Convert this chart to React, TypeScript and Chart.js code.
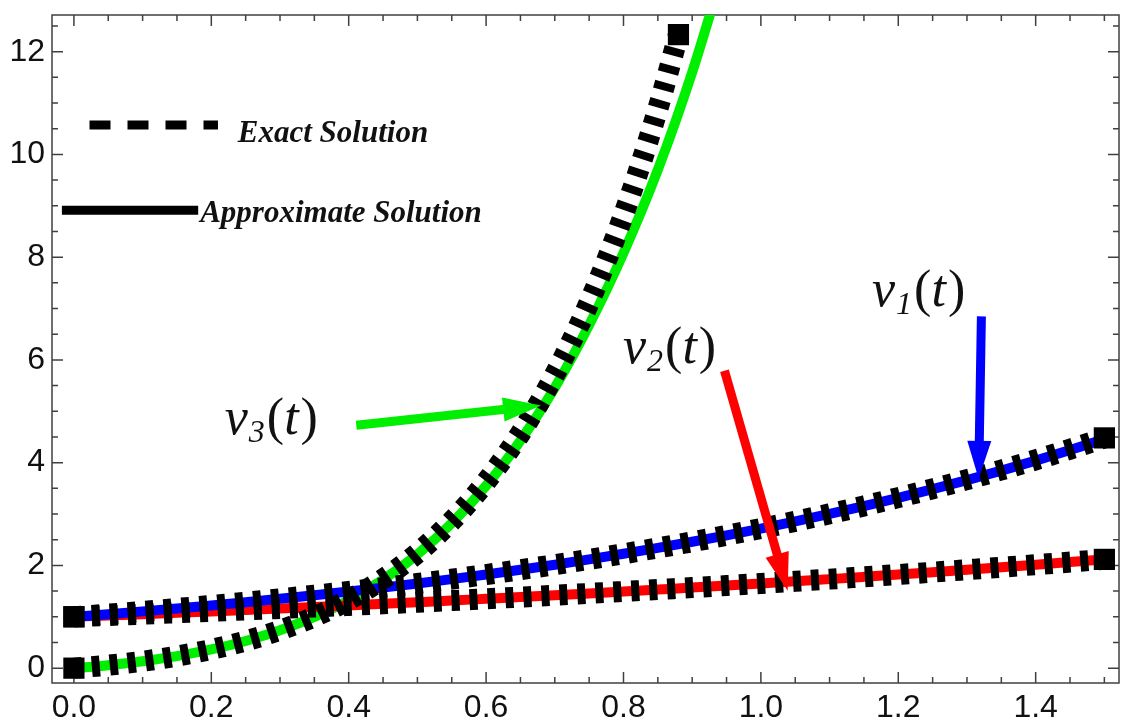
import React, { useEffect, useRef } from 'react';
import { Chart, registerables } from 'chart.js';

Chart.register(...registerables);

// ---------- data ----------
const T_FULL = [0, 0.05, 0.1, 0.15, 0.2, 0.25, 0.3, 0.35, 0.4, 0.45, 0.5, 0.55, 0.6, 0.65, 0.7, 0.75,
  0.8, 0.85, 0.9, 0.95, 1.0, 1.05, 1.1, 1.15, 1.2, 1.25, 1.3, 1.35, 1.4, 1.45, 1.5];

const V1_EXACT = [1.0, 1.051, 1.105, 1.162, 1.221, 1.284, 1.35, 1.419, 1.492, 1.568, 1.649, 1.733,
  1.822, 1.916, 2.014, 2.117, 2.226, 2.34, 2.46, 2.586, 2.718, 2.858, 3.004, 3.158, 3.32, 3.49,
  3.669, 3.857, 4.055, 4.263, 4.482];
const V1_APPROX = [1.0, 1.051, 1.105, 1.162, 1.221, 1.284, 1.35, 1.419, 1.492, 1.568, 1.649, 1.733,
  1.822, 1.916, 2.014, 2.117, 2.226, 2.34, 2.46, 2.585, 2.717, 2.856, 3.002, 3.155, 3.316, 3.484,
  3.661, 3.846, 4.04, 4.245, 4.462];

const V2_EXACT = [1.0, 1.025, 1.051, 1.078, 1.105, 1.133, 1.162, 1.191, 1.221, 1.252, 1.284, 1.316,
  1.35, 1.384, 1.419, 1.455, 1.492, 1.53, 1.568, 1.608, 1.649, 1.691, 1.733, 1.777, 1.822, 1.868,
  1.916, 1.964, 2.014, 2.065, 2.117];
const V2_APPROX = [1.0, 1.025, 1.051, 1.078, 1.105, 1.133, 1.162, 1.191, 1.221, 1.252, 1.284, 1.316,
  1.35, 1.384, 1.419, 1.455, 1.492, 1.53, 1.568, 1.608, 1.649, 1.691, 1.733, 1.777, 1.822, 1.868,
  1.915, 1.964, 2.014, 2.065, 2.117];

const T_V3_EXACT = [0, 0.05, 0.1, 0.15, 0.2, 0.25, 0.3, 0.35, 0.4, 0.45, 0.5, 0.55, 0.6, 0.65, 0.7,
  0.75, 0.8, 0.85, 0.88];
const V3_EXACT = [0, 0.058, 0.135, 0.235, 0.364, 0.529, 0.738, 1.0, 1.328, 1.736, 2.241, 2.864,
  3.63, 4.569, 5.716, 7.116, 8.819, 10.886, 12.332];

const T_V3_APPROX = [0, 0.05, 0.1, 0.15, 0.2, 0.25, 0.3, 0.35, 0.4, 0.45, 0.5, 0.55, 0.6, 0.65, 0.7,
  0.75, 0.8, 0.85, 0.9, 0.95];
const V3_APPROX = [0, 0.058, 0.135, 0.235, 0.364, 0.529, 0.737, 0.998, 1.322, 1.722, 2.215, 2.82,
  3.55, 4.43, 5.46, 6.68, 8.08, 9.7, 11.6, 13.8];

const X_TICKS = [0, 0.2, 0.4, 0.6, 0.8, 1.0, 1.2, 1.4];
const Y_TICKS = [0, 2, 4, 6, 8, 10, 12];
const X_RANGE = [-0.0319, 1.5213];
const Y_RANGE = [-0.289, 12.714];

// annotation anchors, in data units
const LEGEND_ITEMS = [
  { text: 'Exact Solution', dashed: true, x1: 0.0227, x2: 0.2097, yLine: 10.573, xText: 0.2385, yText: 10.245 },
  { text: 'Approximate Solution', dashed: false, x1: -0.0175, x2: 0.1809, yLine: 8.914, xText: 0.1838, yText: 8.682 },
];
const CURVE_LABELS = [
  { sub: '1', x: 1.1618, y: 7.042 },
  { sub: '2', x: 0.7993, y: 5.942 },
  { sub: '3', x: 0.2196, y: 4.553 },
];
const ARROWS = [
  { color: '#0000ff', from: [1.321, 6.849], to: [1.317, 3.685] },
  { color: '#ff0000', from: [0.947, 5.788], to: [1.039, 1.505] },
  { color: '#00ee00', from: [0.411, 4.727], to: [0.680, 5.113] },
];

const BLUE = '#0000ff';
const RED = '#ff0000';
const GREEN = '#00ee00';
const INK = '#111111';
const FRAME = '#404040';
const SERIF = '"Liberation Serif", "Times New Roman", serif';
const SANS = '"Liberation Sans", Arial, sans-serif';

const pts = (xs: number[], ys: number[]) => xs.map((x, i) => ({ x, y: ys[i] }));

const framePlugin = {
  id: 'frameTicks',
  beforeDatasetsDraw(chart: any) {
    const { ctx, chartArea: a, scales } = chart;
    const xs = scales.x;
    const ys = scales.y;
    ctx.save();
    ctx.strokeStyle = FRAME;
    ctx.lineWidth = 1.5;
    ctx.strokeRect(a.left, a.top, a.right - a.left, a.bottom - a.top);
    ctx.beginPath();
    for (let k = Math.ceil(xs.min / 0.05); k * 0.05 <= xs.max + 1e-9; k++) {
      const px = xs.getPixelForValue(k * 0.05);
      const len = k % 4 === 0 ? 11 : 6;
      ctx.moveTo(px, a.bottom); ctx.lineTo(px, a.bottom - len);
      ctx.moveTo(px, a.top); ctx.lineTo(px, a.top + len);
    }
    for (let k = Math.ceil(ys.min / 0.5); k * 0.5 <= ys.max + 1e-9; k++) {
      const py = ys.getPixelForValue(k * 0.5);
      const len = k % 4 === 0 ? 11 : 6;
      ctx.moveTo(a.left, py); ctx.lineTo(a.left + len, py);
      ctx.moveTo(a.right, py); ctx.lineTo(a.right - len, py);
    }
    ctx.stroke();
    ctx.restore();
  },
};

function drawArrow(ctx: CanvasRenderingContext2D, x1: number, y1: number, x2: number, y2: number, color: string) {
  const dx = x2 - x1, dy = y2 - y1;
  const L = Math.hypot(dx, dy);
  const ux = dx / L, uy = dy / L;
  const px = -uy, py = ux;
  const head = 38, half = 12;
  const bx = x2 - ux * head, by = y2 - uy * head;
  ctx.strokeStyle = color;
  ctx.fillStyle = color;
  ctx.lineWidth = 9;
  ctx.lineCap = 'butt';
  ctx.beginPath();
  ctx.moveTo(x1, y1);
  ctx.lineTo(bx + ux * 2, by + uy * 2);
  ctx.stroke();
  ctx.beginPath();
  ctx.moveTo(x2, y2);
  ctx.lineTo(bx + px * half, by + py * half);
  ctx.lineTo(bx - px * half, by - py * half);
  ctx.closePath();
  ctx.fill();
}

const annotationPlugin = {
  id: 'annotations',
  afterDatasetsDraw(chart: any) {
    const { ctx, scales } = chart;
    const X = (v: number) => scales.x.getPixelForValue(v);
    const Y = (v: number) => scales.y.getPixelForValue(v);
    ctx.save();
    // legend
    for (const it of LEGEND_ITEMS) {
      ctx.strokeStyle = '#000';
      ctx.lineWidth = 9;
      ctx.lineCap = 'butt';
      ctx.setLineDash(it.dashed ? [21, 17] : []);
      ctx.beginPath();
      ctx.moveTo(X(it.x1), Y(it.yLine));
      ctx.lineTo(X(it.x2), Y(it.yLine));
      ctx.stroke();
      ctx.setLineDash([]);
      ctx.fillStyle = INK;
      ctx.font = `italic bold 31px ${SERIF}`;
      ctx.textAlign = 'left';
      ctx.textBaseline = 'alphabetic';
      ctx.fillText(it.text, X(it.xText), Y(it.yText));
    }
    // arrows
    for (const ar of ARROWS) {
      drawArrow(ctx, X(ar.from[0]), Y(ar.from[1]), X(ar.to[0]), Y(ar.to[1]), ar.color);
    }
    // curve labels
    ctx.fillStyle = INK;
    ctx.textAlign = 'left';
    ctx.textBaseline = 'alphabetic';
    for (const lb of CURVE_LABELS) {
      let x = X(lb.x);
      const y = Y(lb.y);
      ctx.font = `italic 52px ${SERIF}`;
      ctx.fillText('v', x, y);
      x += ctx.measureText('v').width + 1;
      ctx.font = `italic 32px ${SERIF}`;
      ctx.fillText(lb.sub, x, y + 8);
      x += ctx.measureText(lb.sub).width + 2;
      ctx.font = `52px ${SERIF}`;
      ctx.fillText('(', x, y);
      x += ctx.measureText('(').width;
      ctx.font = `italic 52px ${SERIF}`;
      ctx.fillText('t', x, y);
      x += ctx.measureText('t').width + 2;
      ctx.font = `52px ${SERIF}`;
      ctx.fillText(')', x, y);
    }
    ctx.restore();
  },
};

function colored(data: { x: number; y: number }[], color: string) {
  return {
    data,
    borderColor: color,
    borderWidth: 10,
    pointRadius: 0,
    cubicInterpolationMode: 'monotone' as const,
    clip: 0,
    order: 2,
  };
}

function exact(data: { x: number; y: number }[]) {
  const n = data.length;
  return {
    data,
    borderColor: '#000',
    borderWidth: 21,
    borderDash: [8, 10],
    borderCapStyle: 'butt' as const,
    pointStyle: 'rect' as const,
    pointRadius: (c: any) => (c.dataIndex === 0 || c.dataIndex === n - 1 ? 15 : 0),
    pointBackgroundColor: '#000',
    pointBorderWidth: 0,
    cubicInterpolationMode: 'monotone' as const,
    clip: 0,
    order: 1,
  };
}

export default function App() {
  const ref = useRef<HTMLCanvasElement | null>(null);
  useEffect(() => {
    document.body.style.margin = '0';
    const canvas = ref.current!;
    const chart = new Chart(canvas, {
      type: 'line',
      data: {
        datasets: [
          exact(pts(T_FULL, V1_EXACT)),
          exact(pts(T_FULL, V2_EXACT)),
          exact(pts(T_V3_EXACT, V3_EXACT)),
          colored(pts(T_FULL, V1_APPROX), BLUE),
          colored(pts(T_FULL, V2_APPROX), RED),
          colored(pts(T_V3_APPROX, V3_APPROX), GREEN),
        ] as any,
      },
      options: {
        animation: false,
        responsive: false,
        events: [],
        layout: { padding: { top: 9, right: 2, left: 0, bottom: 0 } },
        plugins: { legend: { display: false }, tooltip: { enabled: false } },
        scales: {
          x: {
            type: 'linear',
            min: X_RANGE[0],
            max: X_RANGE[1],
            grid: { display: false, drawTicks: false, tickLength: 0 },
            border: { display: false },
            afterBuildTicks: (s: any) => { s.ticks = X_TICKS.map((v) => ({ value: v })); },
            afterFit: (s: any) => { s.height = 40; s.paddingLeft = 0; s.paddingRight = 0; },
            ticks: {
              padding: 6,
              color: INK,
              font: { family: SANS, size: 32 },
              maxRotation: 0,
              autoSkip: false,
              callback: (v: any) => Number(v).toFixed(1),
            },
          },
          y: {
            type: 'linear',
            min: Y_RANGE[0],
            max: Y_RANGE[1],
            grid: { display: false, drawTicks: false, tickLength: 0 },
            border: { display: false },
            afterBuildTicks: (s: any) => { s.ticks = Y_TICKS.map((v) => ({ value: v })); },
            afterFit: (s: any) => { s.width = 52; s.paddingTop = 0; s.paddingBottom = 0; },
            ticks: {
              padding: 7,
              color: INK,
              font: { family: SANS, size: 32 },
              autoSkip: false,
              callback: (v: any) => String(Math.round(Number(v))),
            },
          },
        },
      } as any,
      plugins: [framePlugin, annotationPlugin],
    });
    return () => chart.destroy();
  }, []);
  return (
    <div style={{ position: 'relative', width: 1134, height: 723, background: '#fff' }}>
      <canvas ref={ref} width={1134} height={723} style={{ display: 'block' }} />
    </div>
  );
}
